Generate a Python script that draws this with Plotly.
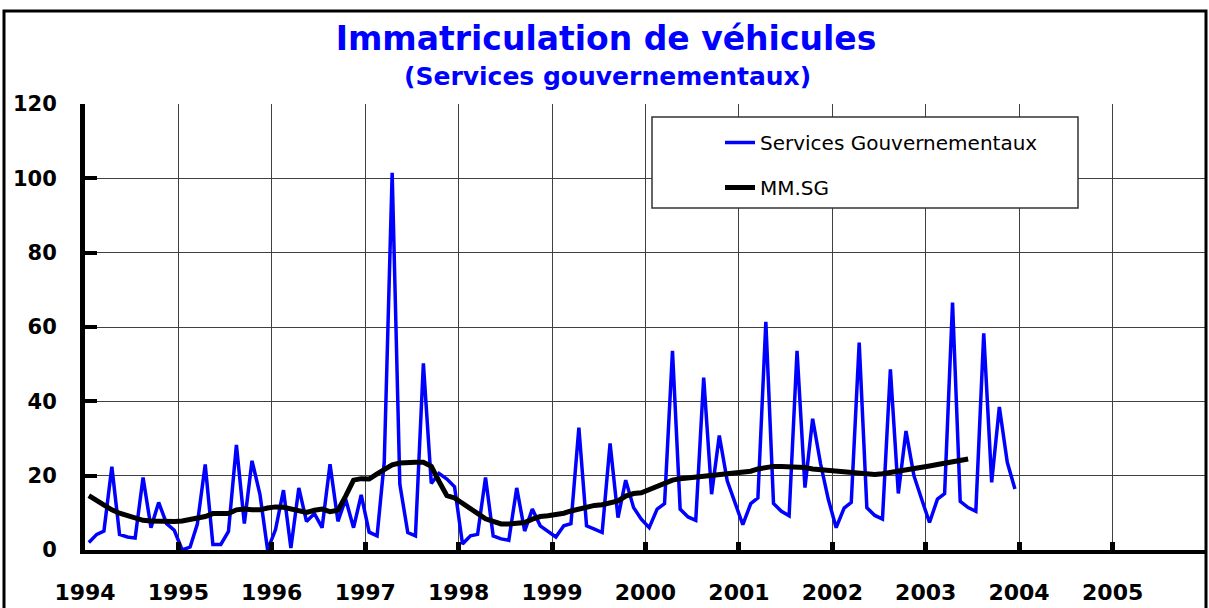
import plotly.graph_objects as go
import pandas as pd

# monthly values, Jan 1994 .. Dec 2003
services_gouv = [
    2.0, 4.2, 5.1, 22.4, 4.2, 3.5, 3.2, 19.5, 6.0, 12.8, 7.1, 5.3,
    0.0, 0.8, 6.9, 23.0, 1.5, 1.5, 5.0, 28.3, 7.1, 24.0, 15.0, 0.0,
    5.5, 16.1, 0.5, 16.7, 7.7, 9.8, 6.0, 23.1, 7.7, 13.7, 6.0, 14.8,
    4.8, 3.8, 23.6, 101.5, 17.7, 4.7, 3.8, 50.2, 17.9, 20.6, 19.1, 17.0,
    1.6, 3.8, 4.2, 19.5, 3.8, 3.0, 2.6, 16.7, 5.1, 11.0, 6.5, 4.9,
    3.5, 6.5, 7.1, 32.9, 6.5, 5.6, 4.7, 28.7, 8.7, 18.8, 11.4, 8.3,
    6.0, 11.0, 12.5, 53.6, 11.0, 8.9, 8.0, 46.4, 15.0, 30.8, 18.6, 12.8,
    6.8, 12.5, 14.0, 61.4, 12.5, 10.4, 9.2, 53.6, 16.8, 35.3, 23.2, 13.7,
    6.0, 11.3, 12.8, 55.8, 11.4, 9.3, 8.3, 48.6, 15.2, 32.0, 20.0, 13.7,
    7.4, 13.7, 15.2, 66.6, 13.1, 11.4, 10.4, 58.3, 18.2, 38.5, 23.6, 16.4,
]

# moyenne mobile, Jan 1994 .. Jun 2003
mm_sg = [
    14.6, 13.3, 12.0, 10.8, 9.9, 9.2, 8.5, 8.0, 7.8, 7.7, 7.7, 7.7,
    7.8, 8.2, 8.6, 9.0, 9.8, 9.8, 9.8, 10.8, 11.0, 10.8, 10.8, 11.3,
    11.6, 11.5, 11.1, 10.6, 10.1, 10.7, 11.0, 10.3, 10.7, 14.5, 18.8, 19.2,
    19.1, 20.5, 21.8, 22.9, 23.4, 23.6, 23.6, 23.6, 22.5, 18.5, 14.6, 14.0,
    12.5, 11.0, 9.7, 8.4, 7.7, 7.0, 7.0, 7.1, 7.4, 8.3, 9.0, 9.2,
    9.4, 9.9, 10.5, 11.0, 11.6, 12.0, 12.2, 12.6, 13.2, 14.5, 15.2, 15.4,
    16.2, 17.0, 17.8, 18.8, 19.2, 19.4, 19.6, 20.0, 20.2, 20.5, 20.7, 20.9,
    20.9, 21.2, 21.8, 22.3, 22.5, 22.5, 22.5, 22.5, 22.2, 21.8, 21.6, 21.5,
    21.3, 20.9, 20.8, 20.6, 20.4, 20.3, 20.5, 20.8, 21.2, 21.7, 22.0, 22.3,
    22.6, 23.0, 23.3, 23.7, 24.1, 24.5,
]

year_labels = ["1994", "1995", "1996", "1997", "1998", "1999",
               "2000", "2001", "2002", "2003", "2004", "2005"]
y_ticks = [0, 20, 40, 60, 80, 100, 120]

months = pd.date_range("1994-01-01", periods=len(services_gouv), freq="MS")
x_mid = months + pd.Timedelta(days=15)
year_ticks = pd.to_datetime([f"{y}-01-01" for y in year_labels])

W, H = 1209, 608
ML, MR, MT, MB = 85, 3, 104, 58


def px(x):
    return (x - ML) / (W - ML - MR)


def py(y):
    return (H - MB - y) / (H - MT - MB)


fig = go.Figure()

fig.add_trace(
    go.Scatter(
        x=x_mid,
        y=services_gouv,
        name="Services Gouvernementaux",
        mode="lines",
        line=dict(color="#0000FF", width=3.5),
        legendgroup="a",
    )
)
fig.add_trace(
    go.Scatter(
        x=x_mid[: len(mm_sg)],
        y=mm_sg,
        name="MM.SG",
        mode="lines",
        line=dict(color="black", width=5),
        legendgroup="b",
    )
)

# cadre du graphique + boite de legende
fig.add_shape(
    type="rect", xref="paper", yref="paper",
    x0=px(4), x1=px(1206), y0=py(640), y1=py(11),
    line=dict(color="black", width=3), layer="above",
)
fig.add_shape(
    type="rect", xref="paper", yref="paper",
    x0=px(652), x1=px(1078), y0=py(208), y1=py(117),
    line=dict(color="#333", width=1.5), fillcolor="white", layer="above",
)

fig.add_annotation(
    text="(Services gouvernementaux)",
    xref="paper", yref="paper", x=px(607), y=py(77),
    xanchor="center", yanchor="middle", showarrow=False,
    font=dict(family="DejaVu Sans", size=25, color="#0000FF", weight="bold"),
)

fig.update_layout(
    width=W,
    height=H,
    margin=dict(l=ML, r=MR, t=MT, b=MB),
    paper_bgcolor="white",
    plot_bgcolor="white",
    title=dict(
        text="Immatriculation de véhicules",
        x=606 / W, xref="container", xanchor="center",
        y=1 - 38.5 / H, yref="container", yanchor="middle",
        font=dict(family="DejaVu Sans", size=33, color="#0000FF", weight="bold"),
    ),
    showlegend=True,
    legend=dict(
        x=px(720), y=py(123), xanchor="left", yanchor="top",
        bgcolor="rgba(0,0,0,0)", borderwidth=0,
        font=dict(family="DejaVu Sans", size=20, color="black"),
        tracegroupgap=16,
    ),
    xaxis=dict(
        range=[pd.Timestamp("1994-01-01"), pd.Timestamp("2006-01-01")],
        tickvals=year_ticks,
        ticktext=year_labels,
        showgrid=True, gridcolor="#404040", gridwidth=1,
        showline=True, linecolor="black", linewidth=4,
        ticks="inside", ticklen=8, tickwidth=5, tickcolor="black",
        ticklabelstandoff=20,
        tickfont=dict(family="DejaVu Sans", size=22, color="black", weight="bold"),
        zeroline=False,
    ),
    yaxis=dict(
        range=[0, 120],
        tickvals=y_ticks,
        showgrid=True, gridcolor="#404040", gridwidth=1,
        showline=True, linecolor="black", linewidth=5,
        ticks="inside", ticklen=12, tickwidth=4, tickcolor="black",
        ticklabelstandoff=19,
        tickfont=dict(family="DejaVu Sans", size=21, color="black", weight="bold"),
        zeroline=False,
    ),
)

fig.write_html(
    "out.html",
    config={"displayModeBar": False},
    post_script="document.body.style.margin='0';document.body.style.overflow='hidden';",
)
